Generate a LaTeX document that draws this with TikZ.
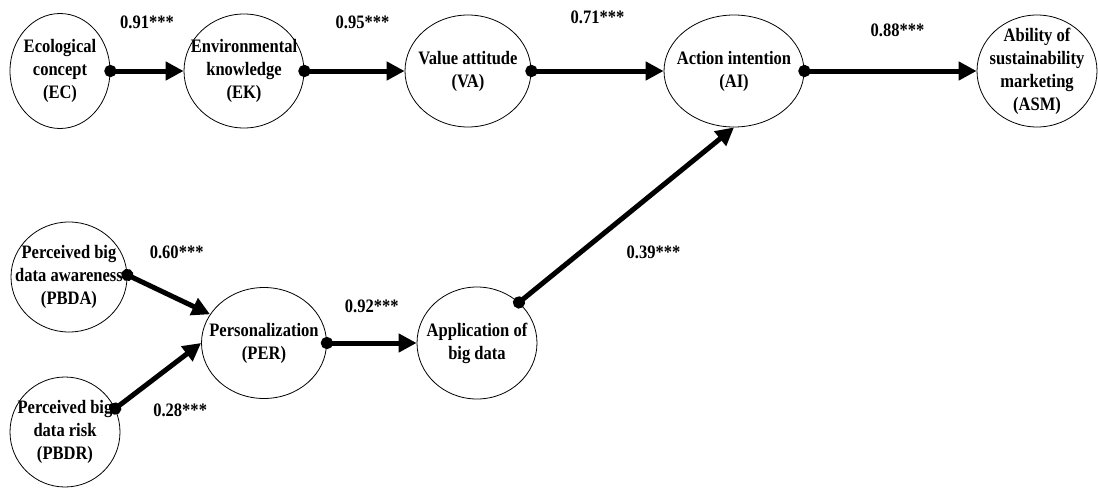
\documentclass[tikz,border=0pt]{standalone}
\usepackage{fontspec}
\setmainfont{Liberation Serif}
\newfontfamily\narrowserif[FakeStretch=0.87]{Liberation Serif}
\usetikzlibrary{arrows.meta,shapes.geometric}

\begin{document}
\begin{tikzpicture}[x=1pt,y=-1pt,
        latent/.style={ellipse,draw,line width=0.8pt,inner xsep=-30pt,inner ysep=-12pt,align=center,
            font=\narrowserif\fontsize{19}{23}\selectfont\bfseries},
        path/.style={line width=5pt,{Circle[length=12pt]}-{Triangle[length=18pt,width=18pt]},shorten <=-6pt},
        coef/.style={inner sep=0pt,font=\narrowserif\fontsize{19}{20}\selectfont\bfseries}]
        \useasboundingbox (0,0) rectangle (1098,490);

        % upper chain
        \node[latent,minimum width=100pt,minimum height=115pt] (EC) at (60,71) {Ecological\\concept\\(EC)};
        \node[latent,minimum width=120pt,minimum height=114pt] (EK) at (244,71) {Environmental\\knowledge\\(EK)};
        \node[latent,minimum width=126pt,minimum height=112pt] (VA) at (468,71) {Value attitude\\(VA)};
        \node[latent,minimum width=140pt,minimum height=112pt] (AI) at (734,71) {Action intention\\(AI)};
        \node[latent,minimum width=120pt,minimum height=112pt] (ASM) at (1037,71) {Ability of\\sustainability\\marketing\\(ASM)};

        % lower chain
        \node[latent,minimum width=116pt,minimum height=110pt] (PBDA) at (69,277) {Perceived big\\data awareness\\(PBDA)};
        \node[latent,minimum width=110pt,minimum height=110pt] (PBDR) at (65,432) {Perceived big\\data risk\\(PBDR)};
        \node[latent,minimum width=125pt,minimum height=111pt] (PER) at (264,343) {Personalization\\(PER)};
        \node[latent,minimum width=120pt,minimum height=112pt] (APP) at (477,343) {Application of\\big data};

        \path[path]
            (EC) edge node[coef,above=40pt] (c1) {0.91***} (EK)
            (EK) edge node[coef,above=40pt,xshift=8pt] (c2) {0.95***} (VA)
            (VA) edge node[coef,above=45pt] (c3) {0.71***} (AI)
            (AI) edge node[coef,above=32pt,xshift=7pt] (c4) {0.88***} (ASM)
            (PBDA.2) edge node[coef,xshift=8pt,yshift=42pt] (c5) {0.60***} (PER.152)
            (PBDR.25) edge node[coef,xshift=22pt,yshift=-35pt] (c6) {0.28***} (PER.west)
            (PER) edge node[coef,above=28pt] (c7) {0.92***} (APP)
            (APP.44) edge node[coef,xshift=27pt,yshift=-37pt] (c8) {0.39***} (AI.south);
    \end{tikzpicture}
\end{document}
